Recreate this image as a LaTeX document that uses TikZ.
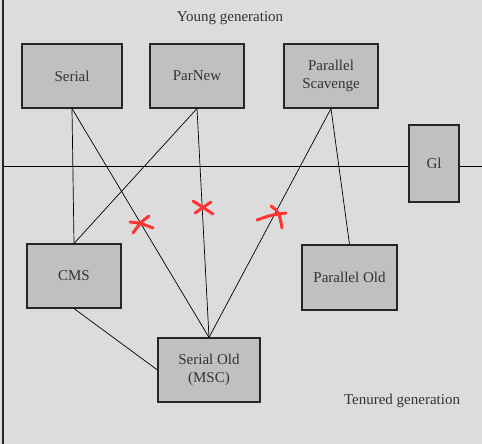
\documentclass[tikz,border=0pt]{standalone}
\usepackage{fontspec}
\setmainfont{Liberation Serif}
\definecolor{bg}{HTML}{DCDCDC}
\definecolor{boxfill}{HTML}{C0C0C0}
\definecolor{txt}{HTML}{333333}
\definecolor{xred}{HTML}{FF3535}
\begin{document}
\begin{tikzpicture}[x=1pt,y=-1pt,
  gcbox/.style={draw=black!85, line width=1.1pt, fill=boxfill, text=txt, align=center,
    font=\fontsize{15}{18}\selectfont, inner sep=0pt},
  conn/.style={draw=black, line width=0.7pt},
  label/.style={text=txt, font=\fontsize{15}{18}\selectfont},
  xmark/.style={draw=xred, line width=3pt, line cap=round}]
\fill[bg] (0,0) rectangle (482,444);
\useasboundingbox (0,0) rectangle (482,444);
\draw[line width=1.1pt, black!85] (3,0) -- (3,444);

\node[label] (young) at (230,18) {Young generation};
\node[label] (tenured) at (402,401) {Tenured generation};

\node[gcbox, minimum width=100pt, minimum height=64pt] (serial) at (72,76) {Serial};
\node[gcbox, minimum width=94pt, minimum height=64pt] (parnew) at (197,76) {\raisebox{-4pt}{ParNew}};
\node[gcbox, minimum width=94pt, minimum height=64pt] (ps) at (331,76) {Parallel\\Scavenge};
\node[gcbox, minimum width=50pt, minimum height=77pt] (g1) at (434,163.5) {Gl};
\node[gcbox, minimum width=94pt, minimum height=64pt] (cms) at (74,276) {CMS};
\node[gcbox, minimum width=95pt, minimum height=65pt] (pold) at (349.5,277.5) {Parallel Old};
\node[gcbox, minimum width=102pt, minimum height=64pt] (sold) at (209,370) {Serial Old\\(MSC)};

\coordinate (hl) at (3,166);
\coordinate (hr) at (482,166);
\draw[conn] (hl) -- (hl -| g1.west);
\draw[conn] (g1.east |- hr) -- (hr);

\draw[conn] (serial.south) -- (cms.north);
\draw[conn] (serial.south) -- (sold.north);
\draw[conn] (parnew.south) -- (cms.north);
\draw[conn] (parnew.south) -- (sold.north);
\draw[conn] (ps.south) -- (sold.north);
\draw[conn] (ps.south) -- (pold.north);
\draw[conn] (cms.south) -- (sold.west);

% red crosses
\draw[xmark] (130,222) .. controls (140,223) .. (153,228);
\draw[xmark] (149,216) .. controls (141,222) .. (133,233);
\draw[xmark] (193,201) .. controls (203,208) .. (213,214);
\draw[xmark] (211,202) .. controls (203,207) .. (195,213);
\draw[xmark] (257,220) .. controls (271,215) .. (286,213);
\draw[xmark] (271,206) .. controls (279,212) .. (282,228);
\end{tikzpicture}
\end{document}
